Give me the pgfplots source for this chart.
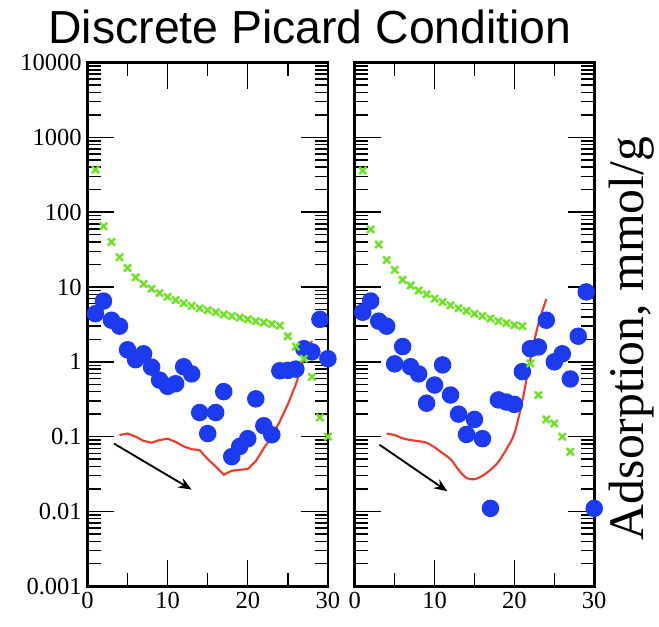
\documentclass[border=0pt]{standalone}
\usepackage{fontspec}
\setmainfont{Liberation Serif}
\newfontfamily\titlefont{Liberation Sans}
\usepackage{pgfplots}
\pgfplotsset{compat=1.18}
\usetikzlibrary{arrows.meta}

\definecolor{dotblue}{RGB}{28,58,240}
\definecolor{xgreen}{RGB}{105,228,30}
\definecolor{linered}{RGB}{238,58,40}

\begin{document}
\begin{tikzpicture}
% left panel
\begin{axis}[
    ymode=log,
    tick align=inside, major tick length=20pt, minor tick length=10pt,
    line width=2pt, tick style={black, line width=1.1pt},
    scale only axis, width=181.5pt, height=395.25pt,
    at={(66pt,30pt)}, anchor=south west, clip=false,
    xmin=0, xmax=30, ymin=0.001, ymax=10000,
    xtick={0,10,20,30}, minor xtick={5,15,25},
    ytick={0.001,0.01,0.1,1,10,100,1000,10000},
    minor ytick={0.002,0.003,0.004,0.005,0.006,0.007,0.008,0.009,
      0.02,0.03,0.04,0.05,0.06,0.07,0.08,0.09,
      0.2,0.3,0.4,0.5,0.6,0.7,0.8,0.9,
      2,3,4,5,6,7,8,9,
      20,30,40,50,60,70,80,90,
      200,300,400,500,600,700,800,900,
      2000,3000,4000,5000,6000,7000,8000,9000},
    yticklabels={0.001,0.01,0.1,1,10,100,1000,10000},
    tick label style={font=\fontsize{18.5}{20}\selectfont},
    /pgf/number format/assume math mode=true,
  ]
\addplot[only marks, mark=*, mark size=5.6pt, color=dotblue] table {
1 4.4
2 6.5
3 3.6
4 3.0
5 1.45
6 1.07
7 1.28
8 0.85
9 0.57
10 0.47
11 0.51
12 0.86
13 0.69
14 0.21
15 0.11
16 0.21
17 0.4
18 0.054
19 0.074
20 0.094
21 0.32
22 0.14
23 0.106
24 0.76
25 0.77
26 0.8
27 1.5
28 1.36
29 3.7
30 1.1
};
\addplot[only marks, mark=x, mark size=3.8pt, color=xgreen, line width=1.8pt] table {
1 370
2 65
3 40
4 25
5 18
6 13.5
7 11
8 9.5
9 8.3
10 7.4
11 6.7
12 6.1
13 5.6
14 5.2
15 4.9
16 4.6
17 4.3
18 4.1
19 3.9
20 3.7
21 3.5
22 3.35
23 3.2
24 3.05
25 2.2
26 1.6
27 1.1
28 0.63
29 0.18
30 0.1
};
\addplot[no markers, color=linered, line width=1.6pt] table {
4 0.105
5 0.11
6 0.1
7 0.088
8 0.083
9 0.09
10 0.094
11 0.085
12 0.074
13 0.068
14 0.066
15 0.05
16 0.04
17 0.031
18 0.035
19 0.036
20 0.037
21 0.047
22 0.07
23 0.1
24 0.16
25 0.27
26 0.5
27 1.1
28 1.9
};
\draw[-{Stealth[length=10pt,width=8pt]}, line width=1.4pt] (axis cs:3.3,0.081) -- (axis cs:13,0.0196);
\end{axis}

% right panel
\begin{axis}[
    ymode=log,
    tick align=inside, major tick length=20pt, minor tick length=10pt,
    line width=2pt, tick style={black, line width=1.1pt},
    scale only axis, width=180.75pt, height=395.25pt,
    at={(267.75pt,30pt)}, anchor=south west, clip=false,
    xmin=0, xmax=30, ymin=0.001, ymax=10000,
    xtick={0,10,20,30}, minor xtick={5,15,25},
    ytick={0.001,0.01,0.1,1,10,100,1000,10000},
    minor ytick={0.002,0.003,0.004,0.005,0.006,0.007,0.008,0.009,
      0.02,0.03,0.04,0.05,0.06,0.07,0.08,0.09,
      0.2,0.3,0.4,0.5,0.6,0.7,0.8,0.9,
      2,3,4,5,6,7,8,9,
      20,30,40,50,60,70,80,90,
      200,300,400,500,600,700,800,900,
      2000,3000,4000,5000,6000,7000,8000,9000},
    yticklabels={},
    tick label style={font=\fontsize{18.5}{20}\selectfont},
    /pgf/number format/assume math mode=true,
  ]
\addplot[only marks, mark=*, mark size=5.6pt, color=dotblue] table {
1 4.6
2 6.5
3 3.5
4 3.0
5 0.94
6 1.6
7 0.86
8 0.69
9 0.28
10 0.49
11 0.91
12 0.36
13 0.2
14 0.107
15 0.17
16 0.094
17 0.011
18 0.31
19 0.29
20 0.27
21 0.74
22 1.5
23 1.58
24 3.6
25 1.0
26 1.28
27 0.59
28 2.2
29 8.6
30 0.011
};
\addplot[only marks, mark=x, mark size=3.8pt, color=xgreen, line width=1.8pt] table {
1 360
2 59
3 37
4 23
5 17
6 12.5
7 10.5
8 9
9 8
10 7
11 6.3
12 5.7
13 5.2
14 4.8
15 4.4
16 4.1
17 3.8
18 3.5
19 3.3
20 3.1
21 3.0
22 0.95
23 0.36
24 0.17
25 0.15
26 0.1
27 0.063
};
\addplot[no markers, smooth, color=linered, line width=1.6pt] table {
4 0.11
5 0.105
6 0.095
7 0.09
8 0.087
9 0.083
10 0.072
11 0.06
12 0.05
13 0.036
14 0.028
15 0.027
16 0.03
17 0.036
18 0.046
19 0.068
20 0.11
21 0.3
22 1.1
23 3.2
24 6.9
};
\draw[-{Stealth[length=10pt,width=8pt]}, line width=1.4pt] (axis cs:3.1,0.078) -- (axis cs:11.6,0.0186);
\end{axis}

% title, right-hand label and page size (659 x 630 px at 0.75pt per px)
\node[font=\titlefont\fontsize{35}{40}\selectfont] at (234pt,452pt) {Discrete Picard Condition};
\node[rotate=90, font=\fontsize{37.5}{42}\selectfont] at (477pt,217pt) {Adsorption, mmol/g};
\path (0pt,0pt) rectangle (494.25pt,472.5pt);
\end{tikzpicture}
\end{document}
